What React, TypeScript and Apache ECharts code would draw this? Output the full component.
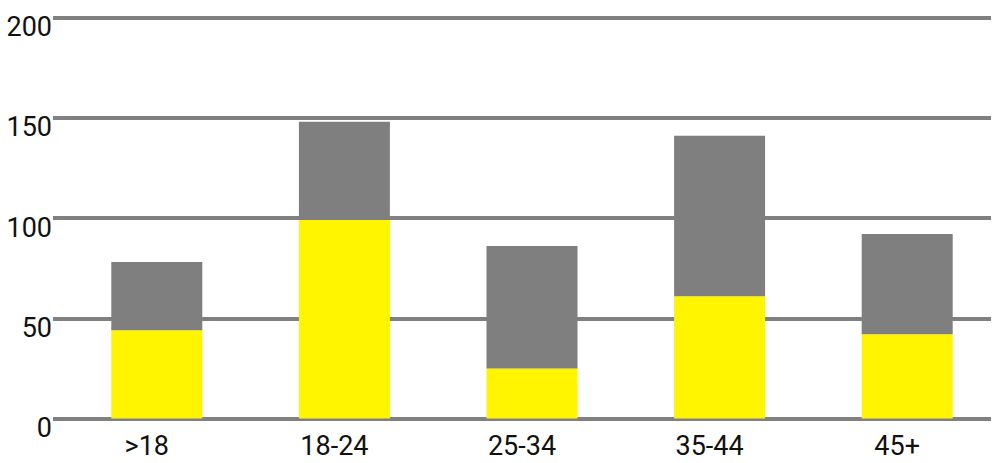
import { useEffect, useRef } from "react";
import * as echarts from "echarts";

const categories = [">18", "18-24", "25-34", "35-44", "45+"];
const yellowValues = [44, 99, 25, 61, 42];
const grayValues = [34, 49, 61, 80, 50];
const yMax = 200;
const yInterval = 50;

const FONT = "Roboto";

function chartOptions(): echarts.EChartsOption {
  return {
    animation: false,
    backgroundColor: "#ffffff",
    grid: [
      { left: 53, right: 10, top: 17.5, bottom: 44.5 },
      { left: 63, right: 0, top: 17.5, bottom: 44.5 },
    ],
    xAxis: [
      {
        type: "category",
        gridIndex: 0,
        data: categories,
        axisLine: { show: false },
        axisTick: { show: false },
        axisLabel: {
          color: "#111",
          fontFamily: FONT,
          fontSize: 27,
          margin: 14,
        },
      },
      {
        type: "category",
        gridIndex: 1,
        data: categories,
        show: false,
      },
    ],
    yAxis: [
      {
        type: "value",
        gridIndex: 0,
        min: 0,
        max: yMax,
        interval: yInterval,
        axisLine: { show: false },
        axisTick: { show: false },
        axisLabel: {
          color: "#111",
          fontFamily: FONT,
          fontSize: 27,
          margin: 1,
          verticalAlign: "top",
          lineHeight: 19,
        },
        splitLine: { show: true, lineStyle: { color: "#808080", width: 4 } },
      },
      {
        type: "value",
        gridIndex: 1,
        min: 0,
        max: yMax,
        show: false,
        splitLine: { show: false },
      },
    ],
    series: [
      {
        name: "yellow",
        type: "bar",
        stack: "total",
        xAxisIndex: 1,
        yAxisIndex: 1,
        barWidth: 91,
        data: yellowValues,
        itemStyle: { color: "#fff500" },
      },
      {
        name: "gray",
        type: "bar",
        stack: "total",
        xAxisIndex: 1,
        yAxisIndex: 1,
        barWidth: 91,
        data: grayValues,
        itemStyle: { color: "#7f7f7f" },
      },
    ],
  };
}

export default function App() {
  const nodeRef = useRef<HTMLDivElement | null>(null);

  useEffect(() => {
    if (!nodeRef.current) return;
    const chart = echarts.init(nodeRef.current, undefined, { renderer: "svg" });
    chart.setOption(chartOptions());
    return () => chart.dispose();
  }, []);

  return (
    <div
      ref={nodeRef}
      style={{ position: "fixed", left: 0, top: 0, width: 1001, height: 463 }}
    />
  );
}
